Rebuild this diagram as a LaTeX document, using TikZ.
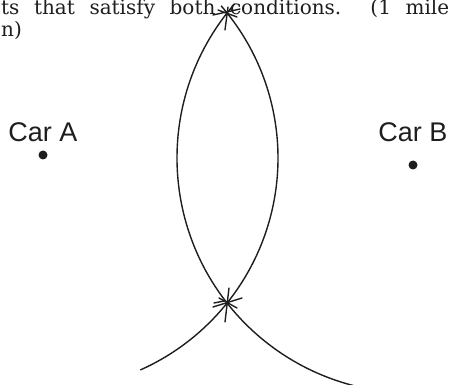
\documentclass[tikz,border=0pt]{standalone}
\usepackage{fontspec}
\setmainfont{DejaVu Serif}
\newfontfamily\carfont{Liberation Sans}
\usetikzlibrary{positioning, calc}
\definecolor{inkgray}{RGB}{30,30,30}

\begin{document}
\begin{tikzpicture}[x=1pt, y=1pt,
    car/.style={circle, fill=inkgray, inner sep=0pt, minimum size=9pt},
    carlabel/.style={font=\carfont\fontsize{27}{27}\selectfont, text=inkgray, inner sep=0pt},
    question/.style={anchor=base west, inner sep=0pt, font=\fontsize{20}{20}\selectfont, text=inkgray},
    locus/.style={line width=1.4pt, color=inkgray},
    tick/.style={line width=1.4pt, color=inkgray, line cap=round}
]
\useasboundingbox (0,0) rectangle (451,384);
% question text, cut by the frame
\node[question] (qline1) at (1,369) {\makebox[448pt][s]{ts that satisfy both conditions.\ \ (1 mile}};
\node[question] (qline2) at (1,347) {n)};
% the two cars
\node[car] (carA) at (43,229) {};
\node[car] (carB) at (413,219) {};
\node[carlabel, above=8pt of carA] (labelA) {Car A};
\node[carlabel, above=18pt of carB] (labelB) {Car B};
% compass arcs and the points on both
\coordinate (ctrA) at (46,226);
\coordinate (ctrB) at (412,226);
\coordinate (top) at (227,371);
\coordinate (bot) at (227,81);
\begin{scope}
\clip (0,0) rectangle (451,384);
\draw[locus] ($(ctrA)+(41:232)$) arc[start angle=41, end angle=-66, radius=232];
\draw[locus] ($(ctrB)+(139:235)$) arc[start angle=139, end angle=256, radius=235];
\end{scope}
\draw[tick] ($(top)+(1,6)$) -- ($(top)+(-2,-17)$);
\draw[tick] ($(top)+(-14,-2)$) -- ($(top)+(13,4)$);
\draw[tick] ($(top)+(-9,3)$) -- ($(top)+(10,-4)$);
\draw[tick] ($(bot)+(2,15)$) -- ($(bot)+(-2,-19)$);
\draw[tick] ($(bot)+(-14,-4)$) -- ($(bot)+(15,5)$);
\draw[tick] ($(bot)+(-13,0)$) -- ($(bot)+(-3,2)$);
\draw[tick] ($(bot)+(-8,5)$) -- ($(bot)+(10,-5)$);
\end{tikzpicture}
\end{document}
